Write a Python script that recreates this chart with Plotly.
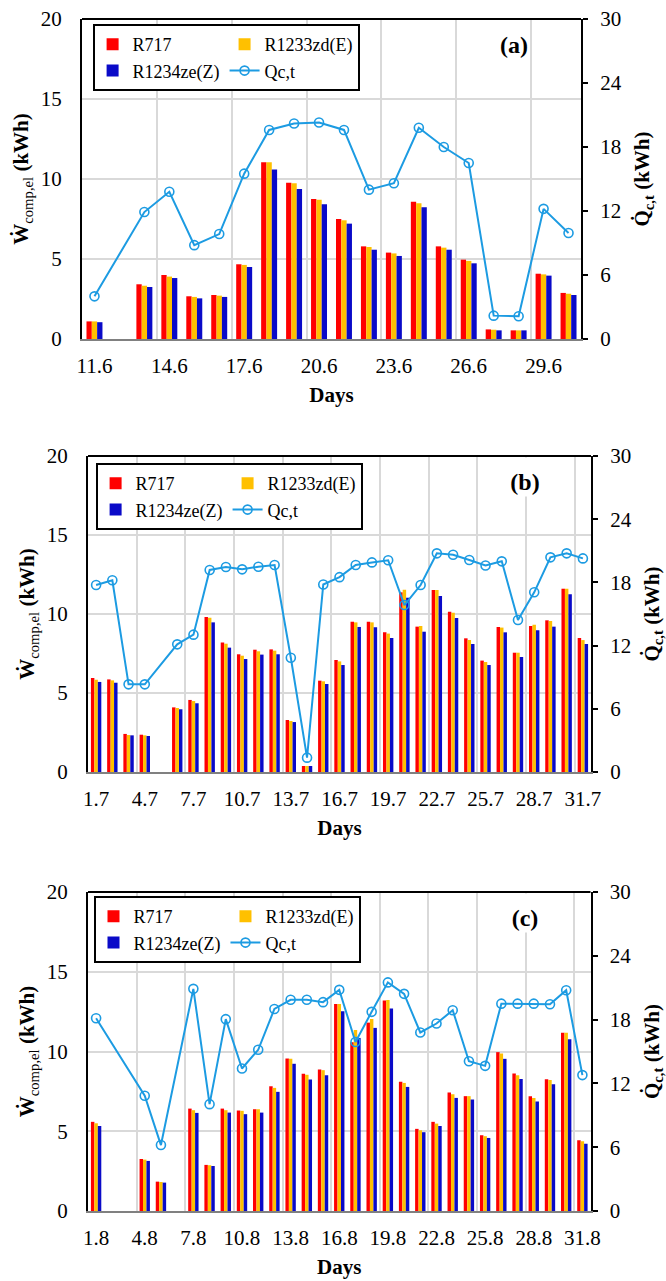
import plotly.graph_objects as go
from plotly.subplots import make_subplots

# ---------------- data ----------------
days_a = ["11.6", "12.6", "13.6", "14.6", "15.6", "16.6", "17.6", "18.6", "19.6", "20.6",
          "21.6", "22.6", "23.6", "24.6", "25.6", "26.6", "27.6", "28.6", "29.6", "30.6"]
r717_a = [1.10, None, 3.42, 4.00, 2.67, 2.75, 4.67, 11.04, 9.77, 8.75, 7.50, 5.79, 5.40, 8.58, 5.79, 4.96, 0.60, 0.54, 4.08, 2.88]
r1233_a = [1.10, None, 3.33, 3.90, 2.63, 2.71, 4.63, 11.04, 9.73, 8.71, 7.42, 5.75, 5.35, 8.48, 5.71, 4.88, 0.58, 0.54, 4.04, 2.83]
r1234_a = [1.05, None, 3.25, 3.81, 2.54, 2.63, 4.50, 10.60, 9.38, 8.42, 7.21, 5.58, 5.19, 8.23, 5.58, 4.73, 0.54, 0.54, 3.96, 2.75]
qc_a = [4.0, None, 11.9, 13.8, 8.8, 9.84, 15.5, 19.6, 20.2, 20.3, 19.6, 14.0, 14.6, 19.8, 18.0, 16.5, 2.19, 2.13, 12.2, 9.94]

days_b = ["1.7", "2.7", "3.7", "4.7", "5.7", "6.7", "7.7", "8.7", "9.7", "10.7", "11.7", "12.7", "13.7", "14.7", "15.7",
          "16.7", "17.7", "18.7", "19.7", "20.7", "21.7", "22.7", "23.7", "24.7", "25.7", "26.7", "27.7", "28.7", "29.7",
          "30.7", "31.7"]
r717_b = [5.95, 5.86, 2.41, 2.36, None, 4.09, 4.56, 9.81, 8.19, 7.45, 7.74, 7.76, 3.29, 0.38, 5.78, 7.09, 9.51, 9.51,
          8.84, 11.37, 9.20, 11.52, 10.15, 8.46, 7.05, 9.18, 7.55, 9.24, 9.60, 11.60, 8.48]
r1233_b = [5.84, 5.80, 2.34, 2.32, None, 4.05, 4.49, 9.77, 8.12, 7.36, 7.64, 7.68, 3.23, 0.38, 5.74, 7.00, 9.47, 9.47,
           8.76, 11.54, 9.24, 11.52, 10.08, 8.35, 6.96, 9.14, 7.55, 9.32, 9.56, 11.60, 8.35]
r1234_b = [5.70, 5.65, 2.32, 2.28, None, 3.97, 4.35, 9.47, 7.87, 7.15, 7.43, 7.45, 3.16, 0.38, 5.57, 6.77, 9.18, 9.16,
           8.48, 11.03, 8.88, 11.14, 9.75, 8.10, 6.77, 8.84, 7.28, 8.97, 9.20, 11.25, 8.10]
qc_b = [17.75, 18.2, 8.32, 8.32, None, 12.12, 13.04, 19.18, 19.46, 19.24, 19.49, 19.65, 10.85, 1.36, 17.8, 18.5, 19.65,
        19.9, 20.1, 15.85, 17.75, 20.76, 20.63, 20.13, 19.6, 20.0, 14.43, 17.06, 20.38, 20.76, 20.28]

days_c = ["1.8", "2.8", "3.8", "4.8", "5.8", "6.8", "7.8", "8.8", "9.8", "10.8", "11.8", "12.8", "13.8", "14.8", "15.8",
          "16.8", "17.8", "18.8", "19.8", "20.8", "21.8", "22.8", "23.8", "24.8", "25.8", "26.8", "27.8", "28.8", "29.8",
          "30.8", "31.8"]
r717_c = [5.59, None, None, 3.26, 1.84, None, 6.42, 2.89, 6.42, 6.30, 6.38, 7.82, 9.56, 8.60, 8.87, 12.98, 10.58, 11.81,
          13.19, 8.10, 5.15, 5.59, 7.43, 7.20, 4.75, 9.96, 8.62, 7.20, 8.26, 11.18, 4.44]
r1233_c = [5.50, None, None, 3.22, 1.82, None, 6.32, 2.87, 6.32, 6.28, 6.38, 7.72, 9.54, 8.54, 8.83, 12.98, 11.35, 12.04,
           13.23, 8.03, 5.06, 5.48, 7.32, 7.20, 4.69, 9.87, 8.51, 7.09, 8.22, 11.18, 4.37]
r1234_c = [5.33, None, None, 3.14, 1.78, None, 6.15, 2.82, 6.17, 6.07, 6.17, 7.47, 9.23, 8.24, 8.51, 12.52, 10.85, 11.48,
           12.69, 7.78, 4.94, 5.33, 7.09, 6.99, 4.58, 9.54, 8.28, 6.86, 7.95, 10.77, 4.21]
qc_c = [18.13, None, None, 10.84, 6.2, None, 20.89, 10.05, 18.04, 13.4, 15.16, 19.0, 19.86, 19.86, 19.64, 20.8, 15.9,
        18.73, 21.5, 20.42, 16.79, 17.63, 18.88, 14.09, 13.65, 19.5, 19.5, 19.5, 19.45, 20.76, 12.78]

series_names = ["R717", "R1233zd(E)", "R1234ze(Z)", "Qc,t"]
panel_labels = ["(a)", "(b)", "(c)"]
left_ticks = [0, 5, 10, 15, 20]
right_ticks = [0, 6, 12, 18, 24, 30]

# ---------------- styling ----------------
W, H = 666, 1281
FONT = "Liberation Serif, Times New Roman, serif"
C_RED, C_ORA, C_BLU, C_LINE = "#FF0000", "#FFC000", "#0A0AC8", "#1C9BE2"
GRID = "#D9D9D9"

panels = [
    dict(days=days_a, bars=[r717_a, r1233_a, r1234_a], qc=qc_a,
         px=(82, 581), py=(19, 339), leg=(92.6, 24), lab=(514, 45)),
    dict(days=days_b, bars=[r717_b, r1233_b, r1234_b], qc=qc_b,
         px=(88, 591), py=(456, 772), leg=(95.6, 463), lab=(525, 481)),
    dict(days=days_c, bars=[r717_c, r1233_c, r1234_c], qc=qc_c,
         px=(88, 590.5), py=(892, 1211), leg=(93.5, 896), lab=(525, 919)),
]

fig = make_subplots(rows=3, cols=1, specs=[[{"secondary_y": True}]] * 3)

bar_colors = [C_RED, C_ORA, C_BLU]
groups = ["g1", "g2", "g1"]
for i, p in enumerate(panels):
    leg = "legend" if i == 0 else f"legend{i+1}"
    for k in range(3):
        fig.add_trace(go.Bar(x=p["days"], y=p["bars"][k], name=series_names[k],
                             marker=dict(color=bar_colors[k], line=dict(width=0)),
                             legend=leg, legendgroup=f"{i}{groups[k]}"),
                      row=i + 1, col=1, secondary_y=False)
    fig.add_trace(go.Scatter(x=p["days"], y=p["qc"], name=series_names[3], mode="lines+markers",
                             connectgaps=True, line=dict(color=C_LINE, width=2),
                             marker=dict(symbol="circle-open", size=9, color=C_LINE, line=dict(width=1.6)),
                             legend=leg, legendgroup=f"{i}g2"),
                  row=i + 1, col=1, secondary_y=True)

TF = dict(family=FONT, size=21, color="black")
layout = dict(width=W, height=H, margin=dict(l=0, r=0, t=0, b=0, autoexpand=False),
              paper_bgcolor="white", plot_bgcolor="white",
              font=dict(family=FONT, size=21, color="black"),
              barmode="group", bargap=0.36, bargroupgap=0, showlegend=True)

annotations = []
shapes = []
for i, p in enumerate(panels):
    xa = "xaxis" if i == 0 else f"xaxis{i+1}"
    ya = f"yaxis{2*i+1}" if i > 0 else "yaxis"
    ya2 = f"yaxis{2*i+2}"
    xdom = [p["px"][0] / W, p["px"][1] / W]
    ydom = [1 - p["py"][1] / H, 1 - p["py"][0] / H]
    layout[xa] = dict(domain=xdom, type="category", tickmode="linear", tick0=0, dtick=3,
                      tickson="boundaries", tickangle=0, showgrid=True, gridcolor=GRID, gridwidth=1.5,
                      showline=True, linecolor="#808080", linewidth=1.5, ticks="", automargin=False,
                      ticklabelstandoff=7, tickfont=TF,
                      title=dict(text="<b>Days</b>", font=TF, standoff=10),
                      range=[-0.5, len(p["days"]) - 0.5])
    layout[ya] = dict(domain=ydom, range=[0, 20], tickvals=left_ticks, showgrid=True,
                      gridcolor=GRID, gridwidth=1.5, zeroline=False, automargin=False,
                      showline=True, linecolor="black", linewidth=2, ticks="",
                      ticklabelstandoff=14, tickfont=TF,
                      title=dict(text="<b>Ẇ</b><sub>comp,el</sub><b> (kWh)</b>", font=TF, standoff=6))
    layout[ya2] = dict(domain=ydom, range=[0, 30], tickvals=right_ticks, showgrid=False, zeroline=False,
                       showline=True, linecolor="black", linewidth=2, ticks="outside", ticklen=5,
                       automargin=False,
                       tickcolor="black", tickwidth=1.5, ticklabelstandoff=8, tickfont=TF,
                       title=dict(text="<b>Q̇<sub>c,t</sub> (kWh)</b>", font=TF, standoff=14))
    legname = "legend" if i == 0 else f"legend{i+1}"
    layout[legname] = dict(x=p["leg"][0] / W, y=1 - p["leg"][1] / H, xanchor="left", yanchor="top",
                           orientation="h", traceorder="grouped", tracegroupgap=0,
                           bgcolor="white", bordercolor="black", borderwidth=2,
                           font=dict(family=FONT, size=18, color="black"), itemclick=False)
    yref = "y" if i == 0 else f"y{2*i+1}"
    xref = "x" if i == 0 else f"x{i+1}"
    shapes.append(dict(type="line", xref=f"{xref} domain", yref=f"{yref} domain",
                       x0=0, x1=1, y0=1, y1=1, line=dict(color="black", width=2)))
    if i == 0:
        annotations.append(dict(text=f"<b>{panel_labels[i]}</b>", xref="paper", yref="paper",
                                x=p["lab"][0] / W, y=1 - p["lab"][1] / H, xanchor="center", yanchor="middle",
                                showarrow=False, font=dict(size=24, family=FONT, color="black"),
                                bgcolor="white"))
    else:
        annotations.append(dict(text=f"<b>{panel_labels[i]}</b>", xref="paper", yref="paper",
                                x=p["lab"][0] / W, y=1 - (p["py"][0] + 1) / H, xanchor="center", yanchor="top",
                                height=36, width=40, valign="bottom",
                                showarrow=False, font=dict(size=24, family=FONT, color="black"),
                                bgcolor="white"))

layout["annotations"] = annotations
layout["shapes"] = shapes
fig.update_layout(**layout)

fig.write_html("out.html")
